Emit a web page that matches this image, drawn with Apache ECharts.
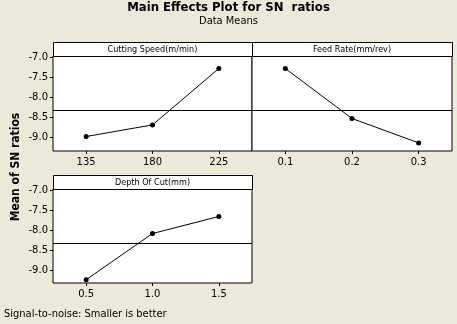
<!DOCTYPE html>
<html>
<head>
<meta charset="utf-8">
<script src="https://cdn.jsdelivr.net/npm/echarts@6/dist/echarts.min.js"></script>
<style>
html,body{margin:0;padding:0;background:#ECE9D8;}
#c{width:457px;height:324px;}
</style>
</head>
<body>
<div id="c"></div>
<script>
// ---- data ----
var panelTitles = ['Cutting Speed(m/min)', 'Feed Rate(mm/rev)', 'Depth Of Cut(mm)'];
var speedLevels = [135, 180, 225];
var speedMeans = [-8.975, -8.685, -7.275];
var feedLevels = [0.1, 0.2, 0.3];
var feedMeans = [-7.275, -8.525, -9.135];
var depthLevels = [0.5, 1.0, 1.5];
var depthMeans = [-9.23, -8.075, -7.65];
var overallMean = -8.325;
var yTicks = [-9.0, -8.5, -8.0, -7.5, -7.0];

var chart = echarts.init(document.getElementById('c'), null, {renderer: 'canvas'});

var FONT = 'DejaVu Sans';
var NARROW = '"DejaVu Sans Condensed", "Liberation Sans Narrow", sans-serif';

var grids = [
  {left: 53, top: 56, width: 199, height: 95},
  {left: 252, top: 56, width: 200, height: 95},
  {left: 53, top: 189, width: 199, height: 94}
];
var headers = [
  {x: 53, y: 42, w: 199},
  {x: 252, y: 42, w: 200},
  {x: 53, y: 175, w: 199}
];

function mkX(idx, levels, fmt) {
  var step = levels[1] - levels[0];
  return {
    type: 'value', gridIndex: idx,
    min: levels[0] - step / 2, max: levels[levels.length - 1] + step / 2,
    axisLine: {show: false},
    splitLine: {show: false},
    axisTick: {show: true, customValues: levels, length: 3, inside: false, lineStyle: {color: '#000'}},
    axisLabel: {show: true, customValues: levels, formatter: fmt, color: '#000', fontFamily: FONT, fontSize: 10, margin: 6}
  };
}
function mkY(idx, showLabels, hh) {
  return {
    type: 'value', gridIndex: idx,
    min: -6.9625 - hh / 40, max: -6.9625,
    axisLine: {show: false},
    splitLine: {show: false},
    axisTick: {show: showLabels, customValues: yTicks, length: 3, lineStyle: {color: '#000'}},
    axisLabel: {show: showLabels, customValues: yTicks, formatter: function (v) { return v.toFixed(1); }, color: '#000', fontFamily: FONT, fontSize: 10, margin: 5}
  };
}

function mkSeries(idx, levels, vals) {
  return {
    type: 'line', xAxisIndex: idx, yAxisIndex: idx,
    data: levels.map(function (l, i) { return [l, vals[i]]; }),
    symbol: 'circle', symbolSize: 5,
    itemStyle: {color: '#000'},
    lineStyle: {color: '#000', width: 1},
    markLine: {
      silent: true, symbol: ['none', 'none'], label: {show: false},
      lineStyle: {color: '#000', width: 1, type: 'solid'},
      data: [{yAxis: overallMean}]
    }
  };
}

var graphics = [];
headers.forEach(function (h, i) {
  graphics.push({
    type: 'rect', shape: {x: h.x + 0.5, y: h.y + 0.5, width: h.w, height: 14},
    style: {fill: '#fff', stroke: '#000', lineWidth: 1}, z: 10
  });
  graphics.push({
    type: 'text', x: h.x + h.w / 2, y: h.y + 8,
    style: {text: panelTitles[i], font: '9px ' + NARROW, fill: '#000', textAlign: 'center', textVerticalAlign: 'middle'}, z: 11
  });
});

chart.setOption({
  animation: false,
  backgroundColor: '#ECE9D8',
  title: [
    {text: 'Main Effects Plot for SN  ratios', left: 'center', top: 1, padding: 0,
     textStyle: {fontFamily: NARROW, fontWeight: 'bold', fontSize: 13, color: '#000'}},
    {text: 'Data Means', left: 'center', top: 16, padding: 0,
     textStyle: {fontFamily: NARROW, fontWeight: 'normal', fontSize: 11, color: '#000'}},
    {text: 'Signal-to-noise: Smaller is better', left: 4, top: 309, padding: 0,
     textStyle: {fontFamily: NARROW, fontWeight: 'normal', fontSize: 11, color: '#000'}}
  ],
  grid: grids.map(function (g) {
    return {left: g.left, top: g.top, width: g.width, height: g.height, show: true,
            backgroundColor: '#fff', borderColor: '#000', borderWidth: 1, containLabel: false};
  }),
  xAxis: [
    mkX(0, speedLevels, function (v) { return String(v); }),
    mkX(1, feedLevels, function (v) { return v.toFixed(1); }),
    mkX(2, depthLevels, function (v) { return v.toFixed(1); })
  ],
  yAxis: [mkY(0, true, 95), mkY(1, false, 95), mkY(2, true, 94)],
  series: [
    mkSeries(0, speedLevels, speedMeans),
    mkSeries(1, feedLevels, feedMeans),
    mkSeries(2, depthLevels, depthMeans)
  ],
  graphic: graphics.concat([
    {type: 'text', x: 16, y: 167, rotation: Math.PI / 2,
     style: {text: 'Mean of SN ratios', font: 'bold 12px "DejaVu Sans Condensed"', fill: '#000', textAlign: 'center', textVerticalAlign: 'middle'}}
  ])
});
</script>
</body>
</html>
